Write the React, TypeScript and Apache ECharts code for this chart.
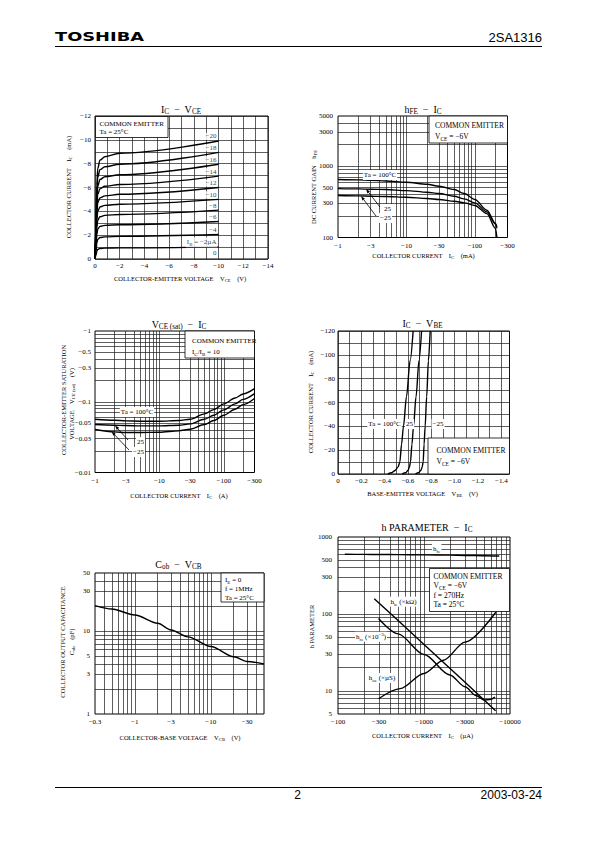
import React, { useEffect, useRef } from 'react';
import * as echarts from 'echarts';

const SERIF = '"Liberation Serif", "Times New Roman", serif';
const SANS = '"Liberation Sans", Arial, sans-serif';
const LOGO = '"DejaVu Sans", "Liberation Sans", sans-serif';

/* ===== 1. IC - VCE ===== */
const vcePoints = [0, 0.08, 0.15, 0.22, 0.4, 0.8, 2, 10];
const ibNames = ['−20', '−18', '−16', '−14', '−12', '−10', '−8', '−6', '−4', '{n|I}{s|B}{n| = −2µA}'];
const icCurves = [
  [0, 3.0, 6.2, 7.6, 8.3, 8.58, 8.88, 9.9],
  [0, 2.7, 5.6, 6.85, 7.5, 7.74, 7.95, 8.95],
  [0, 2.4, 5.0, 6.1, 6.67, 6.9, 7.07, 7.95],
  [0, 2.15, 4.4, 5.4, 5.9, 6.1, 6.25, 6.95],
  [0, 1.9, 3.85, 4.7, 5.13, 5.3, 5.43, 6.0],
  [0, 1.6, 3.3, 4.0, 4.37, 4.5, 4.6, 5.0],
  [0, 1.3, 2.65, 3.25, 3.55, 3.66, 3.74, 4.1],
  [0, 1.0, 2.05, 2.5, 2.74, 2.82, 2.88, 3.15],
  [0, 0.65, 1.35, 1.65, 1.8, 1.86, 1.9, 2.05],
  [0, 0.32, 0.66, 0.81, 0.88, 0.91, 0.93, 1.02],
];

/* ===== 2. hFE - IC ===== */
const hfeIc = [1, 2, 3, 5, 10, 20, 30, 50, 70, 100, 150, 200, 210];
const hfeTa100 = [646, 639, 632, 618, 593, 556, 521, 468, 412, 340, 241, 157, 141];
const hfeTa25 = [483, 478, 473, 468, 453, 429, 412, 378, 347, 305, 228, 154, 134];
const hfeTaM25 = [386, 382, 378, 374, 366, 351, 340, 322, 305, 280, 216, 134, 100];
const hfeXTicks = [1, 3, 10, 30, 100, 300];
const hfeXLabels = ['−1', '−3', '−10', '−30', '−100', '−300'];
const hfeYTicks = [100, 300, 500, 1000, 3000, 5000];
const hfeYLabels = ['100', '300', '500', '1000', '3000', '5000'];

/* ===== 3. VCE(sat) - IC ===== */
const satIc = [1, 2, 3, 5, 10, 20, 30, 50, 70, 100, 150, 200, 300];
const satTa100 = [0.0566, 0.0548, 0.0536, 0.0531, 0.0531, 0.0542, 0.0566, 0.0673, 0.0775, 0.0932, 0.113, 0.129, 0.153];
const satTa25 = [0.0476, 0.0466, 0.0461, 0.0456, 0.0456, 0.0466, 0.0486, 0.0566, 0.0645, 0.0767, 0.0932, 0.108, 0.13];
const satTaM25 = [0.0405, 0.0375, 0.0367, 0.0367, 0.0371, 0.0388, 0.0409, 0.0476, 0.0542, 0.0645, 0.0784, 0.0912, 0.111];
const satXTicks = [1, 3, 10, 30, 100, 300];
const satXLabels = ['−1', '−3', '−10', '−30', '−100', '−300'];
const satYTicks = [0.01, 0.03, 0.05, 0.1, 0.3, 0.5, 1];
const satYLabels = ['−0.01', '−0.03', '−0.05', '−0.1', '−0.3', '−0.5', '−1'];

/* ===== 4. IC - VBE ===== */
const vbeIc = [0, 1, 3, 6, 10, 25, 40, 65, 95, 120];
const vbeTa100 = [0.427, 0.46, 0.49, 0.515, 0.53, 0.545, 0.561, 0.587, 0.618, 0.644];
const vbeTa25 = [0.55, 0.58, 0.6, 0.613, 0.621, 0.634, 0.647, 0.669, 0.694, 0.716];
const vbeTaM25 = [0.664, 0.69, 0.71, 0.722, 0.73, 0.738, 0.747, 0.76, 0.775, 0.79];

/* ===== 5. Cob - VCB ===== */
const vcb = [0.3, 0.5, 1, 2, 3, 5, 10, 20, 30, 50];
const cob = [20.2, 18.4, 15.6, 12.4, 10.3, 8.5, 6.5, 4.9, 4.3, 4.0];
const cobXTicks = [0.3, 1, 3, 10, 30];
const cobXLabels = ['−0.3', '−1', '−3', '−10', '−30'];
const cobYTicks = [1, 3, 5, 10, 30, 50];
const cobYLabels = ['1', '3', '5', '10', '30', '50'];

/* ===== 6. h parameter - IC ===== */
const hfeSmallIc = [120, 200, 300, 500, 1000, 2000, 3000, 5000, 7500];
const hfeSmall = [596, 594, 592, 590, 586, 581, 576, 571, 566];
const hieIc = [264, 500, 1000, 3000, 6800];
const hie = [158, 82, 40, 12.9, 5.5];
const hreIc = [296, 500, 1000, 2000, 3000, 4000, 5000, 5800, 6700];
const hre = [87, 55, 29.7, 16.1, 11.3, 8.7, 7.6, 7.7, 8.3];
const hoeIc = [296, 529, 1000, 1683, 3000, 6870];
const hoe = [7.9, 10.7, 16.8, 25, 43, 106];
const hpXTicks = [100, 300, 1000, 3000, 10000];
const hpXLabels = ['−100', '−300', '−1000', '−3000', '−10000'];
const hpYTicks = [5, 10, 30, 50, 100, 300, 500, 1000];
const hpYLabels = ['5', '10', '30', '50', '100', '300', '500', '1000'];

/* ===== helpers ===== */
const GRID_COLOR = '#1a1a1a';
const GRID_W = 0.7;

function rich(fs: number) {
  const sub = Math.round(fs * 0.72 * 10) / 10;
  const base = { fontFamily: SERIF, color: '#000', fill: '#000' };
  return {
    n: { ...base, fontSize: fs, lineHeight: fs + 3 },
    s: { ...base, fontSize: sub, lineHeight: fs * 0.7, verticalAlign: 'bottom' },
    p: { ...base, fontSize: sub, lineHeight: fs * 0.7, verticalAlign: 'top' },
  };
}

function txt(x: number, y: number, text: string, fs = 7, o: any = {}) {
  const align = o.align || 'left';
  const va = o.va || 'middle';
  const t = o.plain ? text : text.includes('{') ? text : `{n|${text}}`;
  const style: any = {
    text: t,
    fontSize: fs,
    fontFamily: o.font || SERIF,
    fontWeight: o.weight || 'normal',
    fill: '#000',
    align,
    verticalAlign: va,
    textAlign: align,
    textVerticalAlign: va,
  };
  if (!o.plain) style.rich = rich(fs);
  if (o.bg) {
    style.backgroundColor = o.bg;
    style.padding = o.pad || [0, 1];
  }
  return { type: 'text', x, y, z: 100, rotation: o.rot || 0, scaleX: o.sx || 1, style };
}

function box(x: number, y: number, w: number, h: number) {
  return { type: 'rect', z: 95, shape: { x, y, width: w, height: h }, style: { fill: '#fff', stroke: '#000', lineWidth: 0.8 } };
}

function hline(x1: number, y1: number, x2: number, y2: number, w = 1) {
  return { type: 'line', z: 100, shape: { x1, y1, x2, y2 }, style: { stroke: '#000', lineWidth: w } };
}

function arrow(x1: number, y1: number, x2: number, y2: number) {
  const a = Math.atan2(y2 - y1, x2 - x1);
  const L = 4.5;
  const W = 1.6;
  const bx = x2 - L * Math.cos(a);
  const by = y2 - L * Math.sin(a);
  const px = -Math.sin(a) * W;
  const py = Math.cos(a) * W;
  return [
    { type: 'line', z: 100, shape: { x1, y1, x2: bx, y2: by }, style: { stroke: '#000', lineWidth: 0.8 } },
    { type: 'polygon', z: 100, shape: { points: [[x2, y2], [bx + px, by + py], [bx - px, by - py]] }, style: { fill: '#000' } },
  ];
}

function logLines(min: number, max: number): number[] {
  const out: number[] = [];
  for (let e = -3; e <= 5; e++) {
    for (let m = 1; m <= 9; m++) {
      const v = +(m * Math.pow(10, e)).toPrecision(6);
      if (v > min * 1.0001 && v < max * 0.9999) out.push(v);
    }
  }
  return out;
}

const hiddenLine = { color: 'rgba(0,0,0,0)', width: 0.01 };

function gridMark(xLines: number[], yLines: number[], xT: number[], xL: string[], yT: number[], yL: string[], yDist: number) {
  const data: any[] = [];
  xLines.forEach((v) => data.push({ xAxis: v }));
  yLines.forEach((v) => data.push({ yAxis: v }));
  xT.forEach((v, i) =>
    data.push({
      xAxis: v,
      lineStyle: hiddenLine,
      label: { show: true, position: 'start', formatter: xL[i], distance: 4.5, color: '#000', opacity: 1 },
    })
  );
  yT.forEach((v, i) =>
    data.push({
      yAxis: v,
      lineStyle: hiddenLine,
      label: { show: true, position: 'start', formatter: yL[i], distance: yDist, color: '#000', opacity: 1 },
    })
  );
  return {
    silent: true,
    symbol: ['none', 'none'],
    precision: 8,
    z: 1,
    animation: false,
    label: { show: false, fontSize: 7, fontFamily: SERIF, color: '#000' },
    lineStyle: { color: GRID_COLOR, width: GRID_W, type: 'solid', opacity: 1 },
    emphasis: { disabled: true },
    data,
  };
}

function curve(axis: number, xs: number[], ys: number[], extra: any = {}) {
  return {
    type: 'line',
    xAxisIndex: axis,
    yAxisIndex: axis,
    data: xs.map((x, i) => [x, ys[i]]),
    showSymbol: false,
    symbol: 'none',
    smooth: 0.3,
    smoothMonotone: 'x',
    silent: true,
    z: 3,
    lineStyle: { color: '#000', width: 1.4 },
    emphasis: { disabled: true },
    ...extra,
  };
}

const axisFont = { fontSize: 7, fontFamily: SERIF, color: '#000' };

function valAxis(gi: number, min: number, max: number, interval: number, fmt: (v: number) => string, margin: number) {
  return {
    type: 'value',
    gridIndex: gi,
    min,
    max,
    interval,
    axisLine: { show: false },
    axisTick: { show: false },
    axisLabel: { ...axisFont, formatter: fmt, margin },
    splitLine: { show: true, lineStyle: { color: GRID_COLOR, width: GRID_W } },
  };
}

function logAxis(gi: number, min: number, max: number) {
  return {
    type: 'log',
    logBase: 10,
    gridIndex: gi,
    min,
    max,
    axisLine: { show: false },
    axisTick: { show: false },
    axisLabel: { show: false },
    splitLine: { show: false },
    minorTick: { show: false },
    minorSplitLine: { show: false },
  };
}

function buildOption() {
  const grids = [
    { left: 95, top: 116, width: 173, height: 143 },
    { left: 338, top: 116, width: 169.5, height: 121.5 },
    { left: 95, top: 331, width: 159.5, height: 141.5 },
    { left: 338, top: 331, width: 171.5, height: 143 },
    { left: 95, top: 573, width: 169, height: 141 },
    { left: 338, top: 537, width: 172, height: 177 },
  ].map((g) => ({ ...g, show: true, borderColor: '#000', borderWidth: 1, backgroundColor: 'transparent', containLabel: false, outerBoundsMode: 'none' }));

  const neg = (v: number) => (v === 0 ? '0' : '−' + v);
  const xAxis = [
    valAxis(0, 0, 14, 1, (v) => (v % 2 === 0 ? neg(v) : ''), 3),
    logAxis(1, 1, 300),
    logAxis(2, 1, 300),
    valAxis(3, 0, 1.47, 0.1, (v) => {
      const k = Math.round(v * 10);
      if (k % 2) return '';
      return k === 0 ? '0' : '−' + (k / 10).toFixed(1);
    }, 3),
    logAxis(4, 0.3, 50),
    logAxis(5, 100, 10000),
  ];
  const yAxis = [
    valAxis(0, 0, 12, 1, (v) => (v % 2 === 0 ? neg(v) : ''), 4),
    logAxis(1, 100, 5000),
    logAxis(2, 0.01, 1),
    valAxis(3, 0, 120, 10, (v) => (v % 20 === 0 ? neg(v) : ''), 3),
    logAxis(4, 1, 50),
    logAxis(5, 5, 1000),
  ];

  const series: any[] = [];
  // chart 1
  icCurves.forEach((ys) => series.push(curve(0, vcePoints, ys, { smooth: 0.35 })));
  series.push({
    type: 'scatter',
    xAxisIndex: 0,
    yAxisIndex: 0,
    symbolSize: 1,
    silent: true,
    z: 10,
    itemStyle: { color: 'transparent' },
    label: {
      show: true,
      position: 'left',
      distance: 0,
      formatter: '{b}',
      ...axisFont,
      backgroundColor: '#fff',
      padding: [0, 1],
      rich: rich(7),
    },
    data: [
      ...icCurves.map((c, i) => ({ name: ibNames[i], value: [9.95, c[c.length - 1] + 0.38] })),
      { name: '0', value: [9.95, 0.5] },
    ],
  });
  // chart 2
  series.push(
    curve(1, hfeIc, hfeTa100, {
      markLine: gridMark(logLines(1, 300), logLines(100, 5000), hfeXTicks, hfeXLabels, hfeYTicks, hfeYLabels, 5),
    })
  );
  series.push(curve(1, hfeIc, hfeTa25));
  series.push(curve(1, hfeIc, hfeTaM25));
  // chart 3
  series.push(
    curve(2, satIc, satTa100, {
      markLine: gridMark(logLines(1, 300), logLines(0.01, 1), satXTicks, satXLabels, satYTicks, satYLabels, 4),
    })
  );
  series.push(curve(2, satIc, satTa25));
  series.push(curve(2, satIc, satTaM25));
  // chart 4
  series.push(curve(3, vbeTa100, vbeIc));
  series.push(curve(3, vbeTa25, vbeIc));
  series.push(curve(3, vbeTaM25, vbeIc));
  // chart 5
  series.push(
    curve(4, vcb, cob, {
      markLine: gridMark(logLines(0.3, 50), logLines(1, 50), cobXTicks, cobXLabels, cobYTicks, cobYLabels, 5),
    })
  );
  // chart 6
  series.push(
    curve(5, hfeSmallIc, hfeSmall, {
      markLine: gridMark(logLines(100, 10000), logLines(5, 1000), hpXTicks, hpXLabels, hpYTicks, hpYLabels, 6),
    })
  );
  series.push(curve(5, hieIc, hie, { smooth: false }));
  series.push(curve(5, hreIc, hre));
  series.push(curve(5, hoeIc, hoe));

  const R = Math.PI / 2;
  const g: any[] = [
    // header / footer
    txt(55, 37, 'TOSHIBA', 11.5, { plain: true, font: LOGO, weight: 'bold', sx: 1.55 }),
    txt(542, 37, '2SA1316', 13, { plain: true, font: SANS, align: 'right' }),
    hline(55, 46.5, 542, 46.5, 1),
    hline(55, 787.5, 542, 787.5, 1),
    txt(297.5, 795, '2', 12, { plain: true, font: SANS, align: 'center' }),
    txt(542, 795, '2003-03-24', 12, { plain: true, font: SANS, align: 'right' }),

    // chart 1
    txt(181, 109, '{n|I}{s|C}{n|  −  V}{s|CE}', 10, { align: 'center' }),
    txt(180, 278, '{n|COLLECTOR-EMITTER VOLTAGE    V}{s|CE}{n|    (V)}', 6.5, { align: 'center' }),
    txt(68, 187, '{n|COLLECTOR CURRENT    I}{s|C}{n|    (mA)}', 6.5, { align: 'center', rot: R }),
    box(95.5, 116.5, 72.5, 21),
    txt(99.5, 124, 'COMMON EMITTER', 7),
    txt(99.5, 132, 'Ta = 25°C', 7),

    // chart 2
    txt(423, 109, '{n|h}{s|FE}{n|  −  I}{s|C}', 10, { align: 'center' }),
    txt(423.5, 255, '{n|COLLECTOR CURRENT    I}{s|C}{n|    (mA)}', 6.5, { align: 'center' }),
    txt(313, 187, '{n|DC CURRENT GAIN    h}{s|FE}', 6.5, { align: 'center', rot: R }),
    box(429, 116, 78.5, 27),
    txt(435, 125, 'COMMON EMITTER', 7.5),
    txt(435, 136, '{n|V}{s|CE}{n| = −6V}', 7.5),
    txt(380, 175, 'Ta = 100°C', 7, { align: 'center', bg: '#fff' }),
    txt(392, 209, '25', 7, { align: 'right', bg: '#fff' }),
    txt(392, 218, '−25', 7, { align: 'right', bg: '#fff' }),
    ...arrow(380, 207, 366, 189),
    ...arrow(376, 216, 361, 196),

    // chart 3
    txt(179, 324, '{n|V}{s|CE (sat)}{n|  −  I}{s|C}', 10, { align: 'center' }),
    txt(179, 495, '{n|COLLECTOR CURRENT    I}{s|C}{n|    (A)}', 6.5, { align: 'center' }),
    txt(63.5, 400, 'COLLECTOR-EMITTER SATURATION', 6.5, { align: 'center', rot: R }),
    txt(71, 404, '{n|VOLTAGE    V}{s|CE (sat)}{n|    (V)}', 6.5, { align: 'center', rot: R }),
    box(185, 331, 69.5, 27),
    txt(192, 341, 'COMMON EMITTER', 7),
    txt(192, 352, '{n|I}{s|C}{n|/I}{s|B}{n| = 10}', 7),
    txt(137, 412, 'Ta = 100°C', 7, { align: 'center', bg: '#fff' }),
    txt(145, 442, '25', 7, { align: 'right', bg: '#fff' }),
    txt(145, 452, '−25', 7, { align: 'right', bg: '#fff' }),
    ...arrow(128, 440, 115, 425.5),
    ...arrow(129, 450, 111.5, 431.5),

    // chart 4
    txt(422.5, 323, '{n|I}{s|C}{n|  −  V}{s|BE}', 10, { align: 'center' }),
    txt(422.5, 493, '{n|BASE-EMITTER VOLTAGE    V}{s|BE}{n|    (V)}', 6.5, { align: 'center' }),
    txt(310, 402, '{n|COLLECTOR CURRENT    I}{s|C}{n|    (mA)}', 6.5, { align: 'center', rot: R }),
    box(428, 438, 81.5, 36),
    txt(436.5, 450, 'COMMON EMITTER', 7.5),
    txt(436.5, 461.5, '{n|V}{s|CE}{n| = −6V}', 7.5),
    txt(384.5, 424, 'Ta = 100°C', 7, { align: 'center', bg: '#fff' }),
    txt(409.5, 424, '25', 7, { align: 'center', bg: '#fff' }),
    txt(438, 424, '−25', 7, { align: 'center', bg: '#fff' }),

    // chart 5
    txt(178.5, 564, '{n|C}{s|ob}{n|  −  V}{s|CB}', 10, { align: 'center' }),
    txt(180, 737, '{n|COLLECTOR-BASE VOLTAGE    V}{s|CB}{n|    (V)}', 6.5, { align: 'center' }),
    txt(62.5, 642, 'COLLECTOR OUTPUT CAPACITANCE', 6.5, { align: 'center', rot: R }),
    txt(71.5, 642, '{n|C}{s|ob}{n|    (pF)}', 6.5, { align: 'center', rot: R }),
    box(221, 573, 43, 29),
    txt(225, 579.5, '{n|I}{s|E}{n| = 0}', 7),
    txt(225, 588.5, 'f = 1MHz', 7),
    txt(225, 597.5, 'Ta = 25°C', 7),

    // chart 6
    txt(427, 527, '{n|h PARAMETER  −  I}{s|C}', 10, { align: 'center' }),
    txt(422.5, 735, '{n|COLLECTOR CURRENT    I}{s|C}{n|    (µA)}', 6.5, { align: 'center' }),
    txt(311.5, 626.5, 'h PARAMETER', 6.5, { align: 'center', rot: R }),
    box(429.5, 568.5, 80, 43),
    txt(433.5, 576, 'COMMON EMITTER', 7.5),
    txt(433.5, 585.7, '{n|V}{s|CE}{n| = −6V}', 7.5),
    txt(433.5, 595, 'f = 270Hz', 7.5),
    txt(433.5, 604.3, 'Ta = 25°C', 7.5),
    txt(436.7, 549, '{n|h}{s|fe}', 7, { align: 'center', bg: '#fff' }),
    txt(403.5, 601.7, '{n|h}{s|ie}{n| (×kΩ)}', 7, { align: 'center', bg: '#fff' }),
    txt(371, 636.7, '{n|h}{s|re}{n| (×10}{p|−3}{n|)}', 7, { align: 'center', bg: '#fff' }),
    txt(382, 678, '{n|h}{s|oe}{n| (×µS)}', 7, { align: 'center', bg: '#fff' }),
  ];

  return {
    animation: false,
    backgroundColor: '#fff',
    grid: grids,
    xAxis,
    yAxis,
    series,
    graphic: { elements: g },
  };
}

export default function App() {
  const ref = useRef<HTMLDivElement>(null);
  useEffect(() => {
    if (!ref.current) return;
    const chart = echarts.init(ref.current, undefined, { renderer: 'svg' });
    chart.setOption(buildOption() as any);
    return () => chart.dispose();
  }, []);
  return (
    <div
      ref={ref}
      style={{ position: 'absolute', left: 0, top: 0, width: 595, height: 842, background: '#fff' }}
    />
  );
}
